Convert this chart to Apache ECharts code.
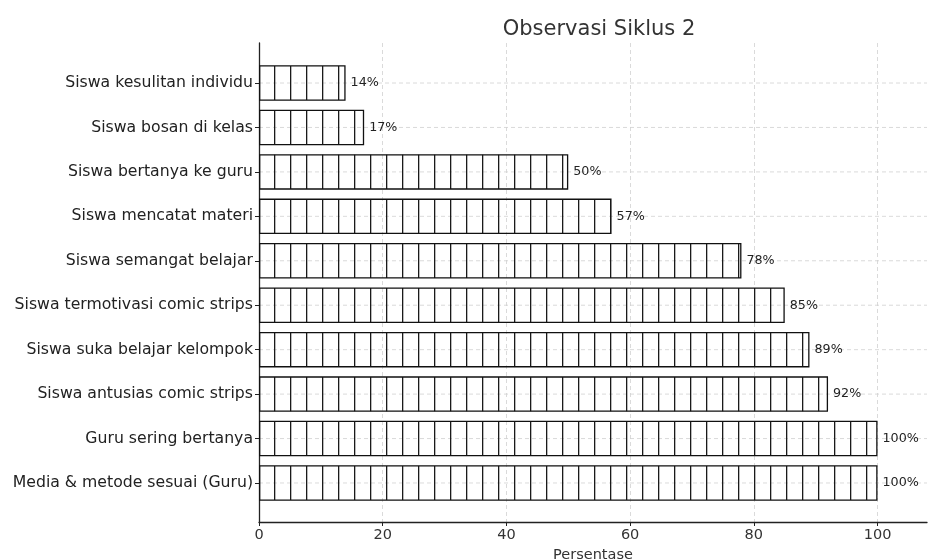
<!DOCTYPE html>
<html><head><meta charset="utf-8">
<script src="https://cdn.jsdelivr.net/npm/echarts@6/dist/echarts.min.js"></script>
<style>html,body{margin:0;padding:0;background:#fff}#c{width:928px;height:560px}</style>
</head><body><div id="c"></div>
<script>
var categories = ["Siswa kesulitan individu","Siswa bosan di kelas","Siswa bertanya ke guru","Siswa mencatat materi","Siswa semangat belajar","Siswa termotivasi comic strips","Siswa suka belajar kelompok","Siswa antusias comic strips","Guru sering bertanya","Media & metode sesuai (Guru)"];
var values = [14,17,50,57,78,85,89,92,100,100];
var xTicks = [0,20,40,60,80,100];

// vertical-line hatch pattern (transparent background, like an unfilled hatched bar)
var hatch = document.createElement('canvas');
hatch.width = 16; hatch.height = 16;
var hc = hatch.getContext('2d');
hc.clearRect(0,0,16,16);
hc.fillStyle = '#1a1a1a'; hc.fillRect(2,0,1.3,16);

var chart = echarts.init(document.getElementById('c'), null, {renderer:'canvas'});
var font = 'DejaVu Sans';
chart.setOption({
  animation:false,
  backgroundColor:'#fff',
  title:{text:'Observasi Siklus 2', left:594, top:14, textAlign:'center',
    textStyle:{fontFamily:font, fontSize:21, fontWeight:'normal', color:'#333'}},
  grid:[
    {left:259, right:1, top:43, bottom:38, containLabel:false, outerBoundsMode:'none'},
    {left:259, right:1, top:60.8, bottom:54.8, containLabel:false, outerBoundsMode:'none'}
  ],
  xAxis:[
    {gridIndex:0, type:'value', min:0, max:108, interval:20,
    name:'Persentase', nameLocation:'middle', nameGap:25,
    nameTextStyle:{fontFamily:font, fontSize:14.5, color:'#333'},
    axisLine:{show:true, lineStyle:{color:'#222', width:1.3}},
    axisTick:{show:true, length:4, lineStyle:{color:'#222'}, customValues:xTicks},
    axisLabel:{fontFamily:font, fontSize:14.5, color:'#333', margin:6, customValues:xTicks,
      formatter:function(v){return String(v);}},
    splitLine:{show:true, lineStyle:{color:'#d0d0d0', type:[4,3], width:0.8}}
    },
    {gridIndex:1, type:'value', min:0, max:108, show:false}
  ],
  yAxis:[
    {gridIndex:0, type:'value', min:0, max:1, axisLine:{show:true, onZero:false, lineStyle:{color:'#222', width:1.3}},
     axisTick:{show:false}, axisLabel:{show:false}, splitLine:{show:false}},
    {gridIndex:1, type:'category', data:categories, inverse:true,
    axisLine:{show:false},
    axisTick:{show:true, alignWithLabel:true, length:4, lineStyle:{color:'#222'}},
    axisLabel:{fontFamily:font, fontSize:15.7, color:'#222', margin:6},
    splitLine:{show:false}
    }
  ],
  series:[
    {type:'bar', xAxisIndex:1, yAxisIndex:1, barWidth:35.5, z:3,
     data: values,
     itemStyle:{color:{image:hatch, repeat:'repeat'}, borderColor:'#111', borderWidth:1.3},
     label:{show:true, position:'right', distance:5, fontFamily:font, fontSize:12.7, color:'#222',
       formatter:function(p){return p.value+'%';}}
    }
  ]
});
// horizontal dashed gridlines at category centers
var g = [];
for (var i=0;i<categories.length;i++){
  var p0 = chart.convertToPixel({xAxisIndex:1, yAxisIndex:1},[0,i]);
  var p1 = chart.convertToPixel({xAxisIndex:1, yAxisIndex:1},[108,i]);
  g.push({type:'line', shape:{x1:p0[0],y1:p0[1],x2:p1[0],y2:p1[1]}, z:-10, silent:true,
    style:{stroke:'#d0d0d0', lineWidth:0.8, lineDash:[4,3]}});
}
chart.setOption({graphic:{elements:g}});
</script></body></html>
